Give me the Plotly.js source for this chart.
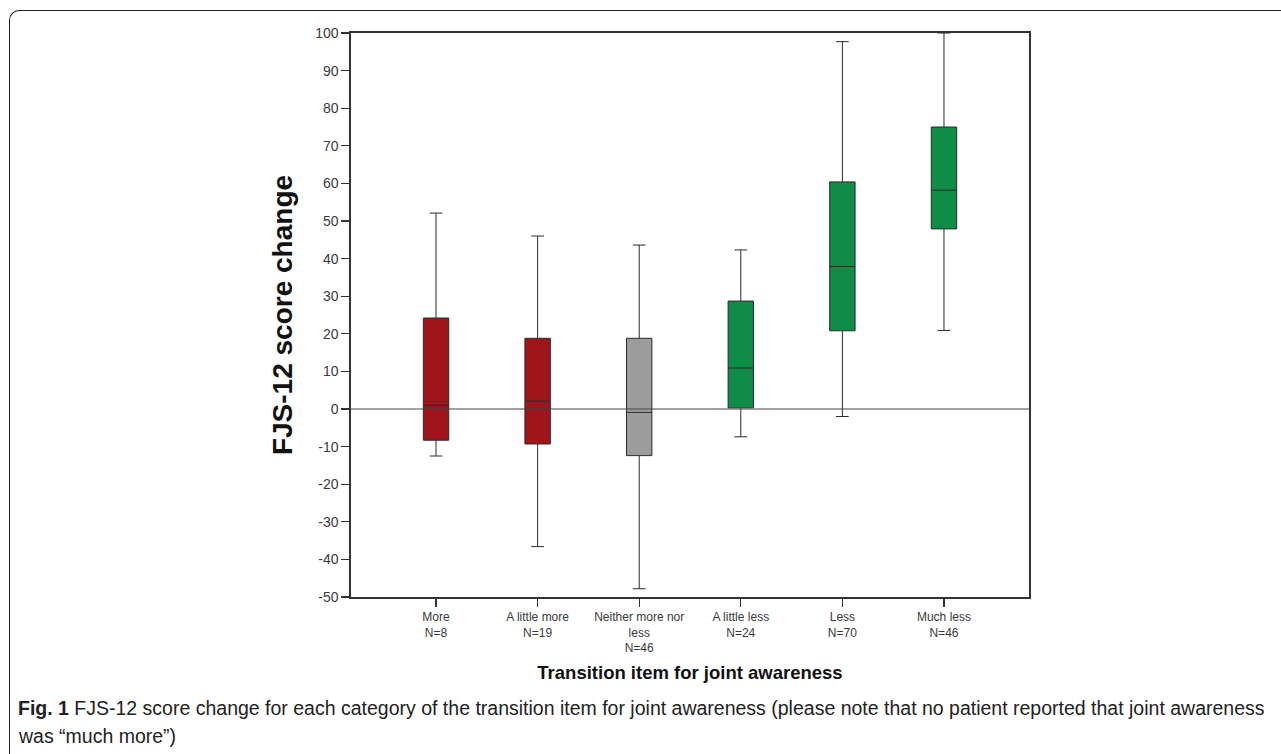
<!DOCTYPE html>
<html><head><meta charset="utf-8">
<script src="https://cdn.plot.ly/plotly-3.0.1.min.js"></script>
<style>
html,body{margin:0;padding:0;background:#fff;overflow:hidden}
#frame{position:absolute;left:9px;top:10px;width:1400px;height:900px;border-left:1.5px solid #222;border-top:1.5px solid #222;border-top-left-radius:10px;box-sizing:border-box}
#chart{position:absolute;left:0;top:0;width:1281px;height:754px}
</style></head><body>
<div id="frame"></div><div id="chart"></div>
<script>
// ---- data ----
const categories = ['More', 'A little more', 'Neither more nor less', 'A little less', 'Less', 'Much less'];
const sampleSizes = [8, 19, 46, 24, 70, 46];
const tickLabels = ['More<br>N=8', 'A little more<br>N=19', 'Neither more nor<br>less<br>N=46', 'A little less<br>N=24', 'Less<br>N=70', 'Much less<br>N=46'];
const lowerWhisker = [-12.5, -36.6, -47.8, -7.4, -2.0, 20.9];
const q1Values = [-8.3, -9.3, -12.4, 0.3, 20.8, 47.9];
const medianValues = [1.0, 2.1, -0.9, 10.9, 37.9, 58.2];
const q3Values = [24.2, 18.8, 18.8, 28.7, 60.4, 75.0];
const upperWhisker = [52.1, 46.0, 43.6, 42.3, 97.7, 100.0];
const groups = ['more', 'more', 'neither', 'less', 'less', 'less'];
const yTickVals = [-50, -40, -30, -20, -10, 0, 10, 20, 30, 40, 50, 60, 70, 80, 90, 100];
const yTickText = ['-50', '-40', '-30', '-20', '-10', '0', '10', '20', '30', '40', '50', '60', '70', '80', '90', '100'];

// ---- styling ----
const groupColors = {more: '#A1141C', neither: '#9C9C9C', less: '#0F8C46'};
const W = 1281, H = 754, L = 351, R = 1029, T = 33, B = 597;
const px2x = p => (p - L) / (R - L);
const px2y = p => (B - p) / (B - T);
const arial = 'Arial, "Liberation Sans", sans-serif';

const traces = ['more', 'neither', 'less'].map(g => {
  const idx = groups.map((v, i) => v === g ? i : -1).filter(i => i >= 0);
  return {
    type: 'box',
    name: g,
    x: idx.map(i => categories[i]),
    q1: idx.map(i => q1Values[i]),
    median: idx.map(i => medianValues[i]),
    q3: idx.map(i => q3Values[i]),
    lowerfence: idx.map(i => lowerWhisker[i]),
    upperfence: idx.map(i => upperWhisker[i]),
    boxpoints: false,
    width: 0.25,
    whiskerwidth: 0.5,
    fillcolor: groupColors[g],
    line: {color: '#2b2b2b', width: 1},
    hoverinfo: 'skip',
    showlegend: false
  };
});

const layout = {
  width: W, height: H,
  margin: {l: L, r: W - R, t: T, b: H - B, pad: 0},
  paper_bgcolor: 'rgba(0,0,0,0)',
  plot_bgcolor: '#ffffff',
  boxmode: 'overlay',
  showlegend: false,
  xaxis: {
    type: 'category',
    categoryorder: 'array', categoryarray: categories,
    range: [-0.837, 5.837],
    tickmode: 'array', tickvals: categories, ticktext: tickLabels,
    ticks: 'outside', ticklen: 8, tickwidth: 1.3, tickcolor: '#333',
    showline: true, linecolor: '#333', linewidth: 1.6, mirror: true,
    showgrid: false, zeroline: false,
    tickfont: {family: arial, size: 12, color: '#3a3a3a'},
    title: {text: '<b>Transition item for joint awareness</b>', standoff: 12,
            font: {family: arial, size: 18.5, color: '#111'}}
  },
  yaxis: {
    range: [-50, 100],
    tickmode: 'array', tickvals: yTickVals, ticktext: yTickText,
    ticks: 'outside', ticklen: 8, tickwidth: 1.3, tickcolor: '#333',
    showline: true, linecolor: '#333', linewidth: 1.6, mirror: true,
    showgrid: false, zeroline: false,
    tickfont: {family: arial, size: 14, color: '#3a3a3a'},
    title: {text: '<b>FJS-12 score change</b>', standoff: 14,
            font: {family: arial, size: 28, color: '#111'}}
  },
  shapes: [{
    type: 'line', xref: 'paper', x0: 0, x1: 1, yref: 'y', y0: 0, y1: 0,
    line: {color: '#444', width: 1.2}, layer: 'above'
  }],
  annotations: [
    {xref: 'paper', yref: 'paper', x: px2x(16), y: px2y(708), xanchor: 'left', yanchor: 'middle',
     showarrow: false, align: 'left',
     text: '<b>Fig. 1</b> FJS-12 score change for each category of the transition item for joint awareness (please note that no patient reported that joint awareness',
     font: {family: arial, size: 19.5, color: '#222'}},
    {xref: 'paper', yref: 'paper', x: px2x(16), y: px2y(736), xanchor: 'left', yanchor: 'middle',
     showarrow: false, align: 'left',
     text: 'was \u201cmuch more\u201d)',
     font: {family: arial, size: 19.5, color: '#222'}}
  ]
};

Plotly.newPlot('chart', traces, layout, {staticPlot: true, displayModeBar: false});
</script>
</body></html>
